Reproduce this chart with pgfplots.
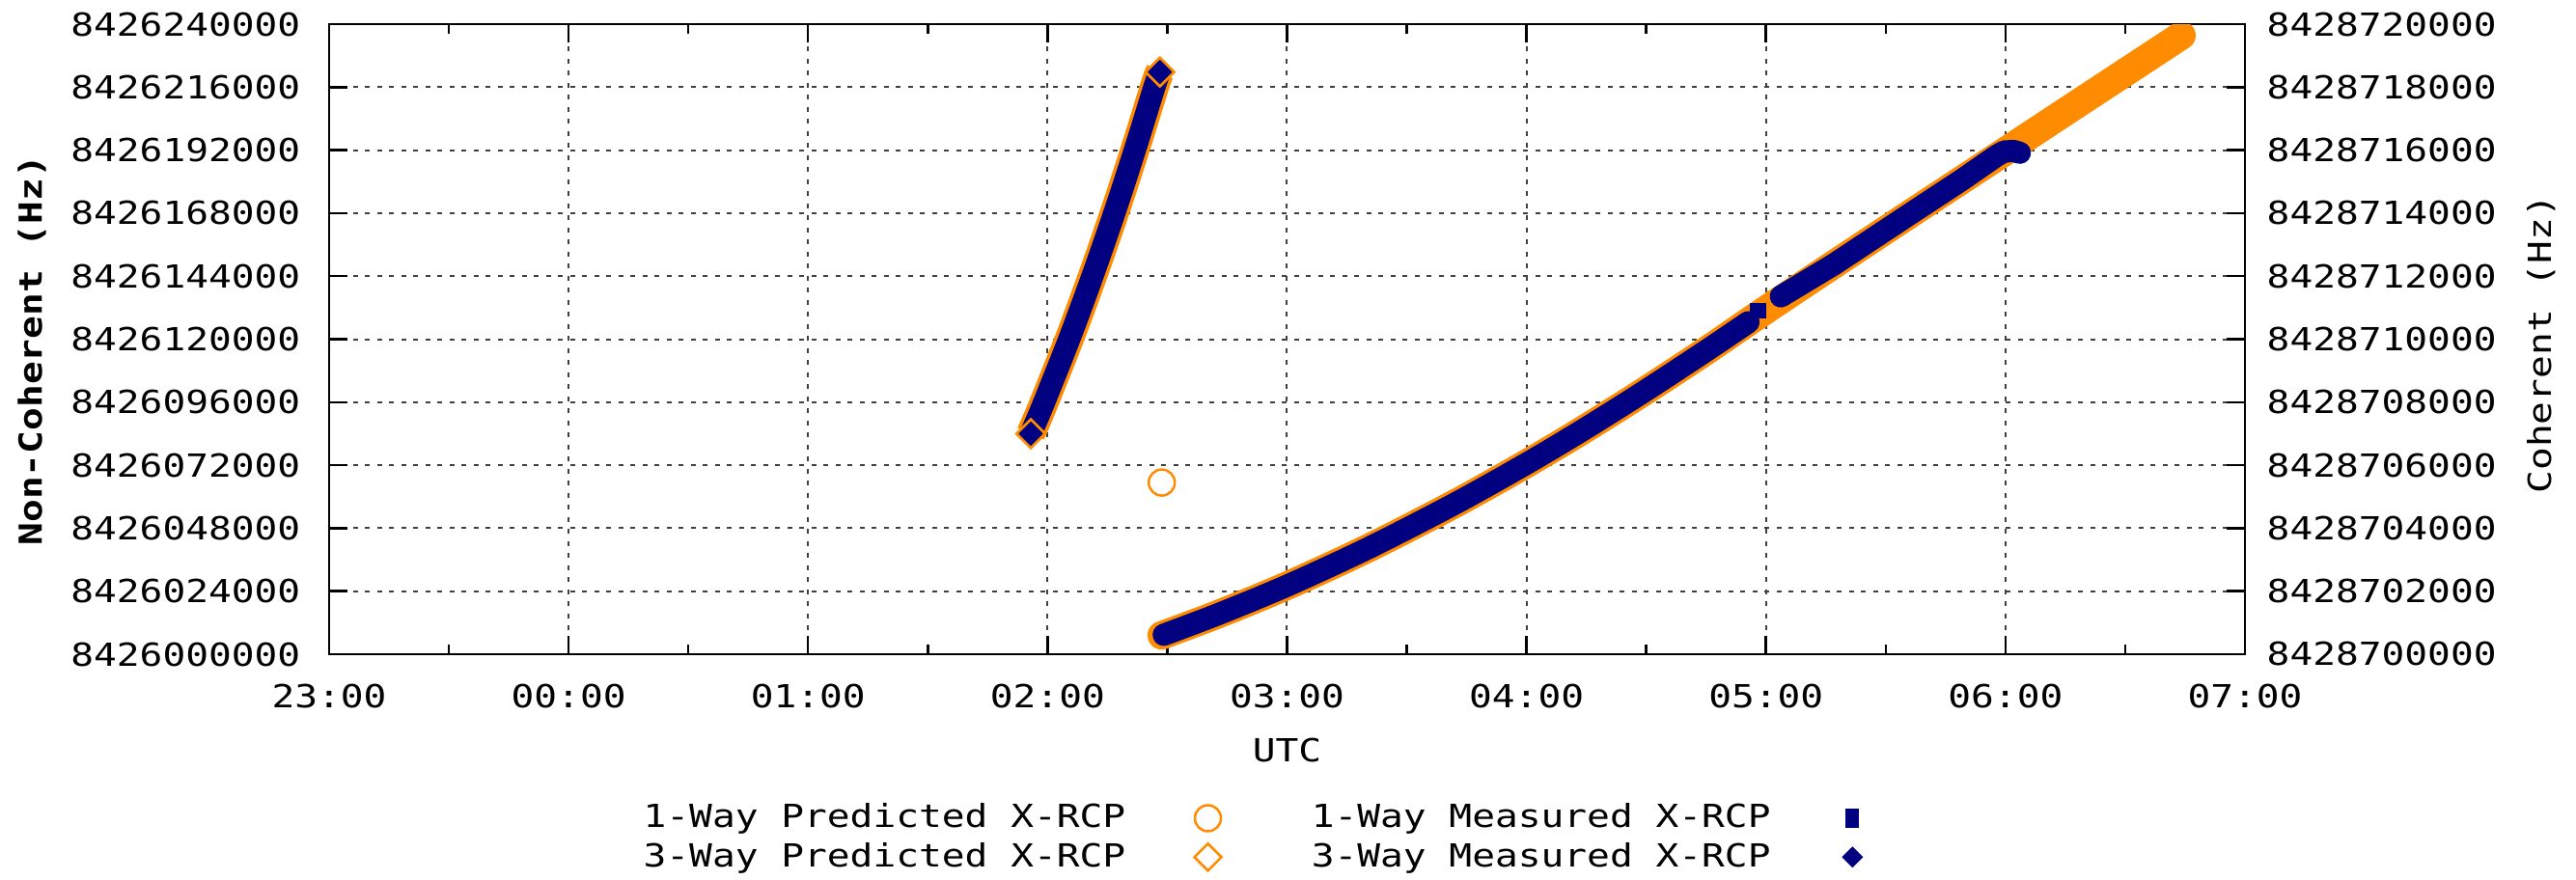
\documentclass[border=0pt]{standalone}
\usepackage{fontspec}
\setmainfont{DejaVu Sans Mono}[FakeStretch=1.2]
\usepackage{pgfplots}
\usepackage{pgfplotstable}
\pgfplotsset{compat=1.18}

\definecolor{orng}{RGB}{255,140,0}
\definecolor{navy}{RGB}{0,0,128}
\newcommand\gfont{\fontsize{9.37pt}{11pt}\selectfont}

% x: hours after 00:00 UTC (23:00 = -1)
% y: Hz above 8426000000 (non-coherent) or above 8428700000 (coherent)
\pgfplotstableread{
x y
2.477 7200
2.711 15200
3.000 26100
3.339 40400
3.700 57300
4.000 72600
4.239 85600
4.490 100000
4.747 115400
5.000 131200
5.284 148500
5.600 167600
5.821 180860
6.000 191600
6.090 197000
6.358 213100
6.627 229200
6.735 235700
}\onepred

\pgfplotstableread{
x y
2.485 7400
2.711 15200
3.000 26100
3.339 40400
3.700 57300
4.000 72600
4.239 85600
4.490 100000
4.747 115400
4.927 126500
}\onemeasA

\pgfplotstableread{
x y
5.062 136300
5.284 148500
5.600 167600
5.821 180860
5.962 189800
5.995 191500
6.035 191700
6.060 191000
}\onemeasB

\pgfplotstableread{
x y
1.930 7000
1.981 7910
2.096 10110
2.194 12140
2.288 14210
2.371 16160
2.450 18100
2.469 18480
}\threepred

\pgfplotstableread{
x y
1.930 7000
1.981 7910
2.096 10110
2.194 12140
2.288 14210
2.371 16160
2.450 18100
2.469 18480
}\threemeas

\pgfplotsset{
  base/.style={
    width=198.5mm, height=65.3mm, scale only axis,
    at={(0,0)}, anchor=south west,
    xmin=-1, xmax=7,
    scaled y ticks=false, scaled x ticks=false,
    tick align=inside,
    major tick length=1.9mm, minor tick length=1.0mm,
    tick style={black, line width=0.25mm},
    axis line style={line width=0.25mm},
    tick label style={font=\gfont},
    label style={font=\gfont},
  },
  % legend image: mark 8.4mm after the text, 7.6mm room before the next text
  keyimg/.style={legend image code/.code={%
    \path (0mm,0mm) (19mm,0mm);
    \draw[##1] plot coordinates {(8.4mm,0mm)};}},
}

\begin{document}
\begin{tikzpicture}
\useasboundingbox (-34.1mm,-23.3mm) rectangle (232.8mm,67.8mm);

\begin{axis}[base,
  ymin=0, ymax=240000,
  xtick={-1,0,1,2,3,4,5,6,7},
  xticklabels={23:00,00:00,01:00,02:00,03:00,04:00,05:00,06:00,07:00},
  minor x tick num=1,
  ytick={0,24000,48000,72000,96000,120000,144000,168000,192000,216000,240000},
  yticklabels={8426000000,8426024000,8426048000,8426072000,8426096000,8426120000,8426144000,8426168000,8426192000,8426216000,8426240000},
  ytick pos=left,
  xticklabel style={anchor=north, inner sep=0pt, yshift=-3mm},
  yticklabel style={anchor=east, inner sep=0pt, xshift=-2.9mm},
  grid=major,
  major grid style={black!75, line width=0.2mm, dash pattern=on 0.5mm off 0.75mm},
  xlabel={UTC},
  xlabel style={at={(axis description cs:0.5,-0.153)}, anchor=center, inner sep=0pt},
  ylabel={Non-Coherent (Hz)},
  ylabel style={at={(axis description cs:-0.1552,0.482)}, anchor=center, inner sep=0pt, font=\gfont\bfseries},
  legend columns=2, legend plot pos=right,
  legend style={draw=none, fill=none, inner sep=0pt,
    at={(axis description cs:0.1637,-0.236)}, anchor=north west,
    font=\gfont, column sep=0pt, row sep=1.0mm,
    nodes={inner sep=0pt}},
]
\addplot[forget plot, orng, line width=2.95mm, line join=round, line cap=round, smooth, tension=0.5] table {\onepred};
\addplot[forget plot, only marks, mark=o, orng, mark size=1.35mm, line width=0.25mm] coordinates {(2.477,65400)};
\addplot[forget plot, navy, line width=2.3mm, line join=round, line cap=round, smooth, tension=0.5] table {\onemeasA};
\addplot[forget plot, only marks, mark=square*, navy, mark size=0.75mm] coordinates {(4.967,130800)};
\addplot[forget plot, navy, line width=2.3mm, line join=round, line cap=round] table {\onemeasB};

\addlegendimage{only marks, keyimg, mark=o, orng, mark size=1.35mm, line width=0.25mm}
\addlegendentry{1-Way Predicted X-RCP}
\addlegendimage{only marks, keyimg, mark=square*, navy, mark size=0.95mm, mark options={xscale=0.65}}
\addlegendentry{1-Way Measured X-RCP}
\addlegendimage{only marks, keyimg, mark=diamond, orng, mark size=1.4mm, line width=0.25mm, mark options={xscale=1.333}}
\addlegendentry{3-Way Predicted X-RCP}
\addlegendimage{only marks, keyimg, mark=diamond*, navy, mark size=1.0mm, mark options={xscale=1.333}}
\addlegendentry{3-Way Measured X-RCP}
\end{axis}

\begin{axis}[base,
  axis x line=none, axis y line*=right,
  ymin=0, ymax=20000,
  ytick={0,2000,4000,6000,8000,10000,12000,14000,16000,18000,20000},
  yticklabels={8428700000,8428702000,8428704000,8428706000,8428708000,8428710000,8428712000,8428714000,8428716000,8428718000,8428720000},
  yticklabel style={anchor=west, inner sep=0pt, xshift=2.2mm},
  ylabel={Coherent (Hz)},
  ylabel style={at={(axis description cs:1.1547,0.492)}, anchor=center, inner sep=0pt},
]
\addplot[orng, line width=3.0mm, line join=round, line cap=butt, smooth, tension=0.5,
  mark=diamond*, mark indices={1,8}, mark size=1.6mm,
  mark options={xscale=1.333, line width=0.1mm, fill=orng}] table {\threepred};
\addplot[navy, line width=2.3mm, line join=round, line cap=butt, smooth, tension=0.5,
  mark=diamond*, mark indices={1,8}, mark size=1.2mm,
  mark options={xscale=1.333, line width=0.1mm, fill=navy}] table {\threemeas};
\end{axis}
\end{tikzpicture}
\end{document}
